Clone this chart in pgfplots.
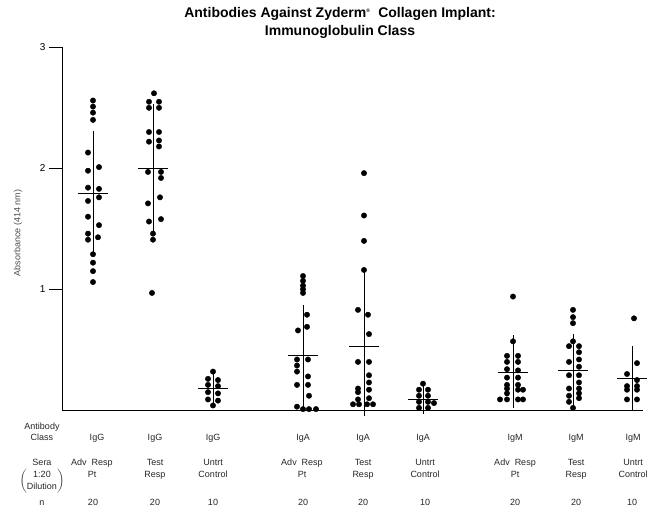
\documentclass[border=0pt]{standalone}
\usepackage{pgfplots}
\pgfplotsset{compat=1.18}
\usepackage{fontspec}
\setmainfont{Liberation Sans}
\begin{document}
\begin{tikzpicture}[x=1pt,y=1pt]
\useasboundingbox (0,0) rectangle (660,518);
\begin{axis}[
  at={(62,89)}, anchor=south west,
  scale only axis, width=581pt, height=363pt,
  xmin=62, xmax=643, ymin=0, ymax=3,
  axis x line=bottom, axis y line=left,
  axis line style={-, line width=1pt},
  xtick=\empty, ytick={1,2,3},
  tick align=outside, major tick length=13pt,
  ytick style={line width=0.8pt, black},
  yticklabel style={font=\fontsize{10}{12}\selectfont},
  /pgf/number format/assume math mode=true,
  clip=false,
]
% individual sera
\addplot[only marks, mark=*, mark size=2.7pt, black] coordinates {
 (93,2.56) (93,2.51) (93,2.46) (93,2.40) (88,2.13) (99,2.01) (88,1.98) (88,1.84) (99,1.83) (99,1.76)
 (88,1.73) (88,1.60) (99,1.53) (88,1.46) (98,1.43) (88,1.41) (93,1.29) (93,1.22) (93,1.15) (93,1.06)};
\addplot[only marks, mark=*, mark size=2.7pt, black] coordinates {
 (154,2.62) (149,2.55) (159,2.55) (149,2.50) (159,2.50) (149,2.30) (159,2.30) (149,2.22) (159,2.23) (159,2.18)
 (148,1.97) (161,1.97) (161,1.92) (160,1.76) (148,1.71) (161,1.58) (149,1.56) (153,1.46) (153,1.41) (152,0.97)};
\addplot[only marks, mark=*, mark size=2.7pt, black] coordinates {
 (213,0.32) (208,0.26) (218,0.25) (208,0.21) (218,0.20) (208,0.15) (218,0.14) (208,0.09) (218,0.08) (213,0.04)};
\addplot[only marks, mark=*, mark size=2.7pt, black] coordinates {
 (303,1.11) (303,1.07) (303,1.03) (303,1.00) (303,0.97) (307,0.79) (307,0.69) (298,0.66) (297,0.42) (308,0.42)
 (297,0.37) (297,0.32) (308,0.28) (297,0.21) (308,0.21) (309,0.12) (297,0.03) (303,0.01) (309,0.01) (316,0.01)};
\addplot[only marks, mark=*, mark size=2.7pt, black] coordinates {
 (364,1.96) (364,1.61) (364,1.40) (364,1.16) (358,0.83) (368,0.79) (369,0.63) (358,0.40) (369,0.40) (369,0.29)
 (369,0.23) (358,0.18) (369,0.17) (358,0.15) (369,0.10) (358,0.09) (353,0.05) (359,0.05) (367,0.05) (373,0.05)};
\addplot[only marks, mark=*, mark size=2.7pt, black] coordinates {
 (423,0.22) (419,0.17) (428,0.17) (419,0.12) (428,0.12) (419,0.07) (428,0.07) (434,0.06) (419,0.02) (428,0.02)};
\addplot[only marks, mark=*, mark size=2.7pt, black] coordinates {
 (513,0.94) (513,0.57) (507,0.45) (518,0.45) (507,0.40) (518,0.40) (507,0.34) (518,0.33) (507,0.27) (518,0.27)
 (507,0.21) (518,0.21) (507,0.18) (518,0.17) (523,0.17) (507,0.14) (500,0.09) (507,0.09) (518,0.09) (523,0.09)};
\addplot[only marks, mark=*, mark size=2.7pt, black] coordinates {
 (573,0.83) (573,0.77) (573,0.72) (573,0.57) (569,0.53) (579,0.53) (579,0.48) (579,0.42) (569,0.40) (579,0.36)
 (569,0.29) (579,0.29) (579,0.23) (569,0.18) (579,0.18) (579,0.14) (569,0.12) (579,0.10) (569,0.07) (573,0.02)};
\addplot[only marks, mark=*, mark size=2.7pt, black] coordinates {
 (634,0.76) (637,0.39) (627,0.30) (637,0.25) (627,0.20) (637,0.20) (627,0.17) (637,0.17) (627,0.09) (637,0.09)};
% means and standard deviations
\addplot[draw=none, mark=-, mark size=15pt, mark options={line width=1pt, black},
  error bars/.cd, y dir=both, y explicit, error mark=-,
  error mark options={mark size=6pt, line width=0.8pt, black},
  error bar style={line width=0.8pt, black}] coordinates {
 (93,1.79) += (0,0.47) -= (0,0.47)
 (153,2.00) += (0,0.48) -= (0,0.48)
 (213,0.18) += (0,0.11) -= (0,0.11)
 (303,0.45) += (0,0.37) -= (0,0.37)
 (364,0.53) += (0,0.59) -= (0,0.53)
 (423,0.09) += (0,0.07) -= (0,0.07)
 (513,0.31) += (0,0.26) -= (0,0.24)
 (573,0.33) += (0,0.25) -= (0,0.27)
 (632,0.26) += (0,0.22) -= (0,0.22)};
\end{axis}
% title
\node[font=\bfseries\fontsize{14}{16}\selectfont] at (340,504) {Antibodies Against Zyderm\textsuperscript{\tiny\textregistered}\ \ Collagen Implant:};
\node[font=\bfseries\fontsize{14}{16}\selectfont] at (340,486) {Immunoglobulin Class};
% y label
\node[rotate=90, font=\fontsize{9}{11}\selectfont, text=black!70] at (18,285) {Absorbance (414 nm)};
% row labels
\begin{scope}[every node/.style={font=\fontsize{9}{10.5}\selectfont, anchor=mid, inner sep=0pt, text=black!85}]
\node at (42,91) {Antibody};
\node at (42,80) {Class};
\node at (42,55) {Sera};
\node at (42,37) {$\left(\mbox{\begin{tabular}{@{}c@{}}1:20\\[1pt] Dilution\end{tabular}}\right)$};
\node at (42,15) {n};
\foreach \x/\t in {97/IgG,155/IgG,213/IgG,303/IgA,363/IgA,423/IgA,515/IgM,576/IgM,633/IgM}
  \node at (\x,80) {\t};
\foreach \x/\a/\b in {92/Adv\ \ Resp/Pt,155/Test/Resp,213/Untrt/Control,302/Adv\ \ Resp/Pt,363/Test/Resp,425/Untrt/Control,515/Adv\ \ Resp/Pt,576/Test/Resp,633/Untrt/Control}
  {\node at (\x,55) {\a}; \node at (\x,43) {\b};}
\foreach \x/\t in {93/20,155/20,213/10,303/20,363/20,425/10,515/20,576/20,632/10}
  \node at (\x,15) {\t};
\end{scope}
\end{tikzpicture}
\end{document}
